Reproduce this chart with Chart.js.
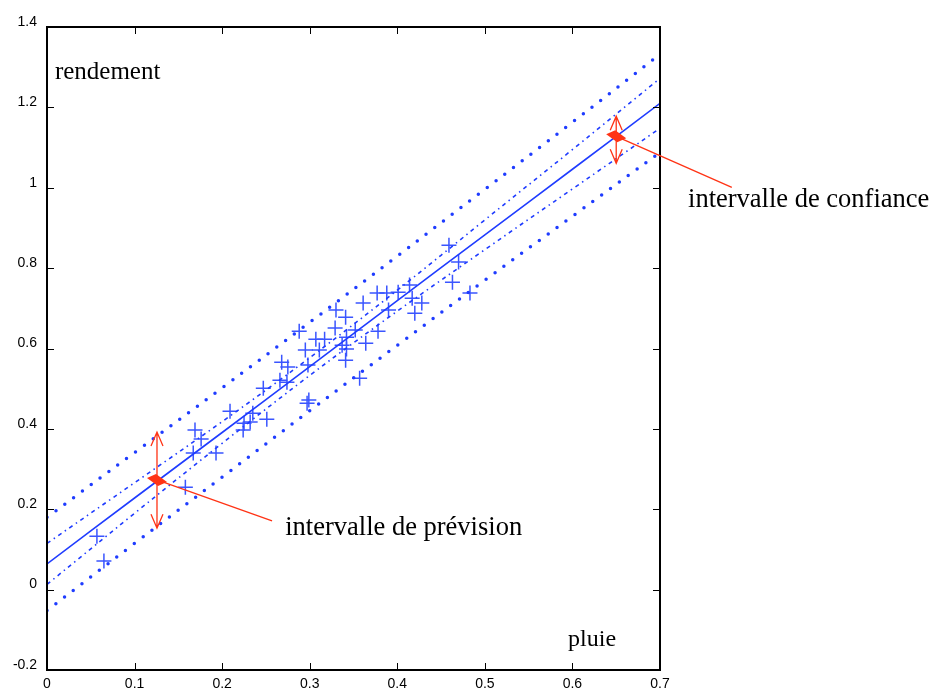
<!DOCTYPE html>
<html>
<head>
<meta charset="utf-8">
<script src="https://cdn.jsdelivr.net/npm/chart.js@4.4.1/dist/chart.umd.min.js"></script>
<style>
  html, body { margin: 0; padding: 0; background: #fff; }
  canvas { display: block; }
</style>
</head>
<body>
<canvas id="c" width="939" height="691"></canvas>
<script>
// observations (pluie -> rendement)
const rainX = [
  0.057, 0.065, 0.158, 0.167, 0.169, 0.176, 0.193, 0.209, 0.224, 0.225,
  0.232, 0.235, 0.251, 0.247, 0.266, 0.274, 0.268, 0.275, 0.288, 0.295,
  0.297, 0.299, 0.307, 0.311, 0.317, 0.329, 0.330, 0.337, 0.341, 0.342,
  0.341, 0.342, 0.352, 0.361, 0.364, 0.357, 0.377, 0.378, 0.388, 0.390,
  0.401, 0.414, 0.417, 0.420, 0.428, 0.459, 0.470, 0.463, 0.483, 0.298,
];
const yieldY = [
  0.133, 0.071, 0.255, 0.340, 0.397, 0.375, 0.340, 0.444, 0.397, 0.414,
  0.417, 0.439, 0.424, 0.501, 0.521, 0.516, 0.566, 0.554, 0.643, 0.596,
  0.464, 0.472, 0.623, 0.596, 0.623, 0.651, 0.696, 0.608, 0.678, 0.599,
  0.571, 0.628, 0.646, 0.713, 0.613, 0.526, 0.738, 0.643, 0.738, 0.696,
  0.740, 0.758, 0.725, 0.688, 0.713, 0.857, 0.815, 0.765, 0.738, 0.559,
];

// fitted line and bands, read at x = 0 .. 0.7
const gridX = [0, 0.1, 0.2, 0.3, 0.4, 0.5, 0.6, 0.7];
const fitY = [0.064, 0.228, 0.391, 0.555, 0.719, 0.883, 1.046, 1.210];
const confUpper = [0.115, 0.266, 0.418, 0.577, 0.745, 0.920, 1.095, 1.272];
const confLower = [0.013, 0.190, 0.364, 0.533, 0.693, 0.846, 0.997, 1.148];
const predUpper = [0.180, 0.341, 0.502, 0.665, 0.830, 0.996, 1.163, 1.332];
const predLower = [-0.052, 0.115, 0.280, 0.445, 0.608, 0.770, 0.929, 1.088];

// the two highlighted intervals
const markX = [0.1256, 0.65];
const markY = [0.273, 1.128];
const markLow = [0.153, 1.061];
const markHigh = [0.392, 1.178];
const noteText = ['intervalle de prévision', 'intervalle de confiance'];

const BLUE = '#1f3cff';
const CROSS = '#3a55ff';
const RED = '#ff3315';
const SERIF = '"Liberation Serif", "Times New Roman", serif';
const SANS = '"Liberation Sans", Arial, Helvetica, sans-serif';

const pts = (xs, ys) => xs.map((v, i) => ({ x: v, y: ys[i] }));
const fmt = (v) => String(Number(v.toFixed(1)));

function band(values, dash, width) {
  return {
    type: 'line',
    data: pts(gridX, values),
    borderColor: BLUE,
    borderWidth: width,
    borderDash: dash,
    borderCapStyle: dash[0] === 0 ? 'round' : 'butt',
    pointRadius: 0,
    tension: 0.35,
    fill: false,
  };
}

// frame, inward ticks, red markers and the loose text labels
const decorations = {
  id: 'decorations',
  afterDatasetsDraw(chart) {
    const { ctx, chartArea: a, scales: { x, y } } = chart;
    ctx.save();

    ctx.strokeStyle = '#000';
    ctx.lineWidth = 1;
    ctx.beginPath();
    x.ticks.forEach((t) => {
      const px = Math.round(x.getPixelForValue(t.value)) + 0.5;
      ctx.moveTo(px, a.bottom); ctx.lineTo(px, a.bottom - 7);
      ctx.moveTo(px, a.top); ctx.lineTo(px, a.top + 7);
    });
    y.ticks.forEach((t) => {
      const py = Math.round(y.getPixelForValue(t.value)) + 0.5;
      ctx.moveTo(a.left, py); ctx.lineTo(a.left + 7, py);
      ctx.moveTo(a.right, py); ctx.lineTo(a.right - 7, py);
    });
    ctx.stroke();
    ctx.lineWidth = 2;
    ctx.strokeRect(a.left, a.top, a.right - a.left, a.bottom - a.top);

    // red interval arrows, diamonds and callout lines
    const ends = [
      { x: 0.257, y: 0.171 },
      { x: 0.782, y: 1.001 },
    ];
    ctx.strokeStyle = RED;
    ctx.fillStyle = RED;
    ctx.lineWidth = 1.3;
    markX.forEach((mx, i) => {
      const px = x.getPixelForValue(mx);
      const py = y.getPixelForValue(markY[i]);
      const top = y.getPixelForValue(markHigh[i]);
      const bot = y.getPixelForValue(markLow[i]);
      ctx.beginPath();
      ctx.moveTo(px, top); ctx.lineTo(px, bot);
      ctx.moveTo(px - 6, top + 14); ctx.lineTo(px, top); ctx.lineTo(px + 6, top + 14);
      ctx.moveTo(px - 6, bot - 14); ctx.lineTo(px, bot); ctx.lineTo(px + 6, bot - 14);
      ctx.moveTo(px, py);
      ctx.lineTo(x.getPixelForValue(ends[i].x), y.getPixelForValue(ends[i].y));
      ctx.stroke();
      ctx.beginPath();
      ctx.moveTo(px - 10, py - 2);
      ctx.lineTo(px - 1, py - 6);
      ctx.lineTo(px + 10, py + 2);
      ctx.lineTo(px + 1, py + 6);
      ctx.closePath();
      ctx.fill();
    });

    ctx.fillStyle = '#000';
    ctx.textBaseline = 'alphabetic';
    ctx.textAlign = 'left';
    ctx.font = '25px ' + SERIF;
    ctx.fillText('rendement', x.getPixelForValue(0.009), y.getPixelForValue(1.27));
    ctx.font = '24px ' + SERIF;
    ctx.fillText('pluie', x.getPixelForValue(0.595), y.getPixelForValue(-0.14));
    ctx.font = '26.5px ' + SERIF;
    ctx.fillText(noteText[0], x.getPixelForValue(0.272), y.getPixelForValue(0.136));
    ctx.fillText(noteText[1], x.getPixelForValue(0.732), y.getPixelForValue(0.951));
    ctx.restore();
  },
};

new Chart(document.getElementById('c'), {
  type: 'scatter',
  data: {
    datasets: [
      band(predUpper, [0, 11], 3.5),
      band(predLower, [0, 11], 3.5),
      band(confUpper, [4, 4, 1.5, 4], 1.6),
      band(confLower, [4, 4, 1.5, 4], 1.6),
      band(fitY, [], 1.6),
      {
        data: pts(rainX, yieldY),
        pointStyle: 'cross',
        pointRadius: 7.5,
        pointBorderWidth: 1.5,
        borderColor: CROSS,
        backgroundColor: CROSS,
      },
    ],
  },
  options: {
    responsive: false,
    animation: false,
    devicePixelRatio: 1,
    layout: { padding: { top: 27, right: 279, left: 0, bottom: 0 } },
    plugins: { legend: { display: false }, tooltip: { enabled: false } },
    scales: {
      x: {
        type: 'linear',
        min: 0,
        max: 0.7,
        afterFit: (s) => { s.height = 21; },
        grid: { display: false, drawTicks: false },
        border: { display: false },
        ticks: { stepSize: 0.1, padding: 6, callback: fmt, color: '#000', font: { family: SANS, size: 14 } },
      },
      y: {
        type: 'linear',
        min: -0.2,
        max: 1.4,
        afterFit: (s) => { s.width = 47; },
        grid: { display: false, drawTicks: false },
        border: { display: false },
        ticks: { stepSize: 0.2, padding: 10, labelOffset: -5, callback: fmt, color: '#000', font: { family: SANS, size: 14 } },
      },
    },
  },
  plugins: [decorations],
});
</script>
</body>
</html>
